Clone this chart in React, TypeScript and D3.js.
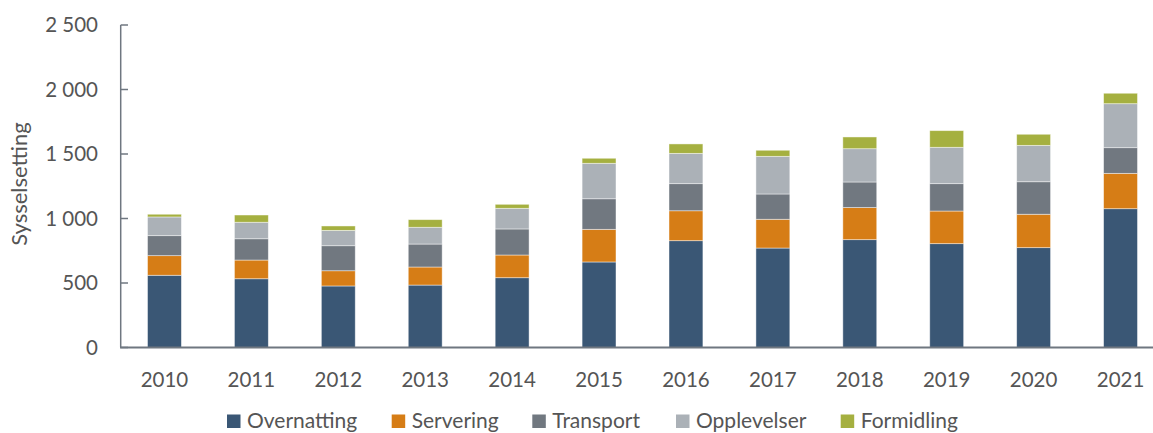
import React from "react";
import * as d3 from "d3";

const years = ["2010","2011","2012","2013","2014","2015","2016","2017","2018","2019","2020","2021"];
const seriesNames = ["Overnatting","Servering","Transport","Opplevelser","Formidling"];
const overnatting = [560, 533, 477, 484, 541, 663, 828, 771, 836, 805, 774, 1076];
const servering = [152, 145, 118, 140, 176, 253, 232, 223, 249, 253, 259, 274];
const transport = [155, 165, 194, 178, 202, 237, 210, 196, 198, 212, 252, 199];
const opplevelser = [145, 128, 119, 130, 160, 275, 235, 292, 258, 282, 282, 341];
const formidling = [21, 56, 34, 59, 31, 39, 73, 47, 91, 129, 86, 81];
const yTicks = [0, 500, 1000, 1500, 2000, 2500];
const colors = ["#3A5775", "#D67D16", "#717880", "#ABB1B7", "#A5B040"];

const W = 1153, H = 433;
const FONT = "Lato, 'Open Sans', sans-serif";
const TEXT = "#555555";
const AXIS = "#6F7780";

export default function App() {
  const seriesValues = [overnatting, servering, transport, opplevelser, formidling];
  const rows = years.map((y, i) => {
    const r: any = { year: y };
    seriesNames.forEach((s, k) => (r[s] = seriesValues[k][i]));
    return r;
  });
  const stacked = d3.stack().keys(seriesNames)(rows);
  const x = d3.scaleBand().domain(years).range([121, 1164]).paddingInner(0.61).paddingOuter(0.305);
  const y = d3.scaleLinear().domain([0, 2500]).range([347.5, 25]);
  const fmt = (v: number) => d3.format(",")(v).replace(/,/g, " ");
  const legendX = [227, 391.7, 532.3, 676, 840.7];

  return (
    <svg width={W} height={H} style={{ position: "absolute", left: 0, top: 0, background: "#fff" }} fontFamily={FONT}>
      {stacked.map((layer, k) => (
        <g key={layer.key} fill={colors[k]}>
          {layer.map((d: any, i) => (
            <rect key={i} x={x(years[i])} width={x.bandwidth()} y={y(d[1])} height={y(d[0]) - y(d[1])}
              stroke="rgba(255,255,255,0.55)" strokeWidth={0.8} />
          ))}
        </g>
      ))}
      {/* y axis */}
      <line x1={120.7} x2={120.7} y1={y(2500)} y2={y(0)} stroke={AXIS} strokeWidth={1.5} />
      {yTicks.map((t) => (
        <g key={t}>
          <line x1={120.7} x2={128} y1={y(t)} y2={y(t)} stroke={AXIS} strokeWidth={1.5} />
          <text x={98} y={y(t)} dy="0.35em" textAnchor="end" fontSize={20.5} fill={TEXT}>{fmt(t)}</text>
        </g>
      ))}
      {/* x axis */}
      <line x1={120} x2={1164} y1={y(0)} y2={y(0)} stroke={AXIS} strokeWidth={2} />
      {years.map((yr) => (
        <text key={yr} x={(x(yr) as number) + x.bandwidth() / 2} y={387} textAnchor="middle" fontSize={20.5} fill={TEXT}>{yr}</text>
      ))}
      <text transform="translate(27,184) rotate(-90)" textAnchor="middle" fontSize={22} fill={TEXT}>Sysselsetting</text>
      {seriesNames.map((s, k) => (
        <g key={s}>
          <rect x={legendX[k]} y={414.5} width={13.5} height={13.5} fill={colors[k]} />
          <text x={legendX[k] + 20} y={428} fontSize={21} fill={TEXT}>{s}</text>
        </g>
      ))}
    </svg>
  );
}
